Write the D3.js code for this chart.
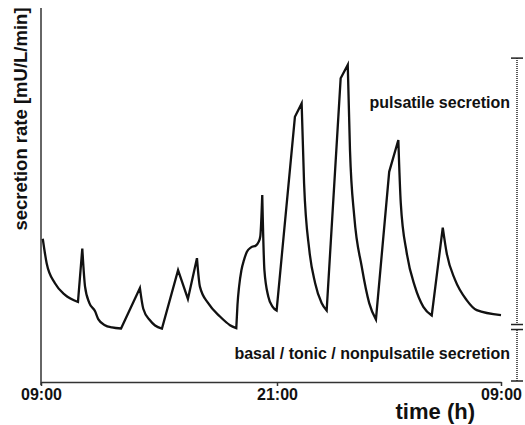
<!DOCTYPE html>
<html>
<head>
<meta charset="utf-8">
<script src="https://cdn.jsdelivr.net/npm/d3@7"></script>
<style>
    body { margin: 0; background: #fff; }
    svg { display: block; font-family: "Liberation Sans", Arial, sans-serif; font-weight: bold; }
</style>
</head>
<body>
<svg id="vis" width="525" height="425"></svg>
<script>
// secretion rate over 24 h, hours after 09:00
const hours = [0.09, 0.29, 0.71, 1.22, 1.88, 2.10, 2.24, 2.46, 2.75, 2.91, 3.25, 3.61, 4.07,
    5.03, 5.20, 5.54, 5.80, 6.15, 6.97, 7.47, 7.93, 8.08, 8.51, 9.10, 9.61, 9.93,
    9.99, 10.07, 10.19, 10.32, 10.47, 10.68, 10.93, 11.06, 11.15, 11.25,
    11.36, 11.56, 11.78, 11.98, 12.96, 13.32, 13.45, 13.73, 14.04, 14.39, 14.66,
    15.41, 15.79, 15.91, 16.14, 16.54, 16.94, 17.30, 18.01, 18.50, 18.63, 18.95,
    19.39, 19.84, 20.29, 20.88, 21.09, 21.54, 22.16, 22.70, 24.0];
const rate = [38.3, 31.7, 26.4, 23.3, 21.4, 35.7, 25.5, 21.1, 18.9, 16.8, 15.2, 14.6, 14.3,
    25.1, 19.6, 16.5, 15.1, 14.3, 29.9, 22.2, 33.1, 25.5, 21.0, 17.5, 15.2, 14.4,
    20.6, 25.4, 29.9, 32.6, 34.8, 36.0, 36.5, 37.4, 38.9, 50.0,
    29.9, 22.8, 20.1, 19.1, 70.9, 74.5, 53.2, 35.3, 26.5, 21.1, 19.1,
    81.2, 84.8, 62.0, 44.2, 30.8, 21.1, 16.7, 56.2, 64.7, 47.9, 34.5,
    25.5, 20.1, 17.8, 41.3, 34.5, 27.3, 21.9, 19.2, 17.9];

const tickHours = [0, 12, 24];
const tickLabels = ["09:00", "21:00", "09:00"];

// extent of the pulsatile / basal bracket (in rate units)
const bracketTop = 86.6;
const bracketBreak = 14.7;

const svg = d3.select('#vis');

const x = d3.scaleLinear().domain([0, 12, 24]).range([41, 277, 501]);
const y = d3.scaleLinear().domain([0, 100]).range([382, 8]);

// axes
svg.append("g")
    .attr("transform", "translate(0,382)")
    .call(d3.axisBottom(x)
        .tickValues(tickHours)
        .tickFormat(function (d, i) { return tickLabels[i]; })
        .tickSize(4)
        .tickSizeOuter(0)
        .tickPadding(3))
    .call(function (g) {
        g.select(".domain").attr("stroke", "#333").attr("stroke-width", 1.5);
        g.selectAll(".tick line").attr("stroke", "#333").attr("stroke-width", 1.5);
        g.selectAll(".tick text")
            .attr("font-family", "Liberation Sans, Arial, sans-serif")
            .attr("font-size", 16)
            .attr("font-weight", "bold")
            .attr("fill", "#111");
    });

svg.append("g")
    .attr("transform", "translate(41,0)")
    .call(d3.axisLeft(y).tickValues([]).tickSizeOuter(0))
    .call(function (g) {
        g.select(".domain").attr("stroke", "#333").attr("stroke-width", 1.5)
            .attr("d", "M0," + (y(0) + 3) + "V" + y(100));
    });

// secretion curve: split into rising / falling runs,
// long runs (decays) are smoothed, short rises stay straight
const points = hours.map(function (h, i) { return [h, rate[i]]; });
const runs = [];
var run = [points[0]];
var dir = 0;
for (var i = 1; i < points.length; i++) {
    var d = Math.sign(points[i][1] - points[i - 1][1]);
    if (dir !== 0 && d !== dir) {
        runs.push(run);
        run = [points[i - 1]];
    }
    run.push(points[i]);
    dir = d;
}
runs.push(run);

const smooth = d3.line()
    .x(function (d) { return x(d[0]); })
    .y(function (d) { return y(d[1]); })
    .curve(d3.curveMonotoneX);
const straight = d3.line()
    .x(function (d) { return x(d[0]); })
    .y(function (d) { return y(d[1]); });

var pathD = runs.map(function (r, k) {
    var s = (r.length > 3 ? smooth : straight)(r);
    return k === 0 ? s : "L" + s.slice(1);
}).join("");

svg.append("path")
    .attr("fill", "none")
    .attr("stroke", "#111")
    .attr("stroke-width", 2.3)
    .attr("stroke-linejoin", "miter")
    .attr("stroke-miterlimit", 6)
    .attr("d", pathD);

// bracket on the right
const bx = 517;
const bracket = svg.append("g").attr("stroke", "#222");
bracket.append("line")
    .attr("x1", bx).attr("x2", bx)
    .attr("y1", y(bracketTop)).attr("y2", y(bracketBreak) - 3)
    .attr("stroke-width", 1.5).attr("stroke-dasharray", "1,1");
bracket.append("line")
    .attr("x1", bx).attr("x2", bx)
    .attr("y1", y(bracketBreak) + 3).attr("y2", y(0) - 1)
    .attr("stroke-width", 1.5).attr("stroke-dasharray", "1,1");
[y(bracketTop), y(bracketBreak) - 2.5, y(bracketBreak) + 2.5, y(0) - 1].forEach(function (yy) {
    bracket.append("line")
        .attr("x1", bx - 6).attr("x2", bx + 6)
        .attr("y1", yy).attr("y2", yy)
        .attr("stroke-width", 1.5);
});

// labels
svg.append("text")
    .attr("x", 510).attr("y", 108)
    .attr("text-anchor", "end")
    .attr("font-size", 16)
    .attr("fill", "#111")
    .text("pulsatile secretion");

svg.append("text")
    .attr("x", 510).attr("y", 359)
    .attr("text-anchor", "end")
    .attr("font-size", 16)
    .attr("fill", "#111")
    .text("basal / tonic / nonpulsatile secretion");

svg.append("text")
    .attr("x", 475).attr("y", 419)
    .attr("text-anchor", "end")
    .attr("font-size", 22)
    .attr("fill", "#111")
    .text("time (h)");

svg.append("text")
    .attr("transform", "translate(27,119) rotate(-90)")
    .attr("text-anchor", "middle")
    .attr("font-size", 18.5)
    .attr("fill", "#111")
    .text("secretion rate [mU/L/min]");
</script>
</body>
</html>
